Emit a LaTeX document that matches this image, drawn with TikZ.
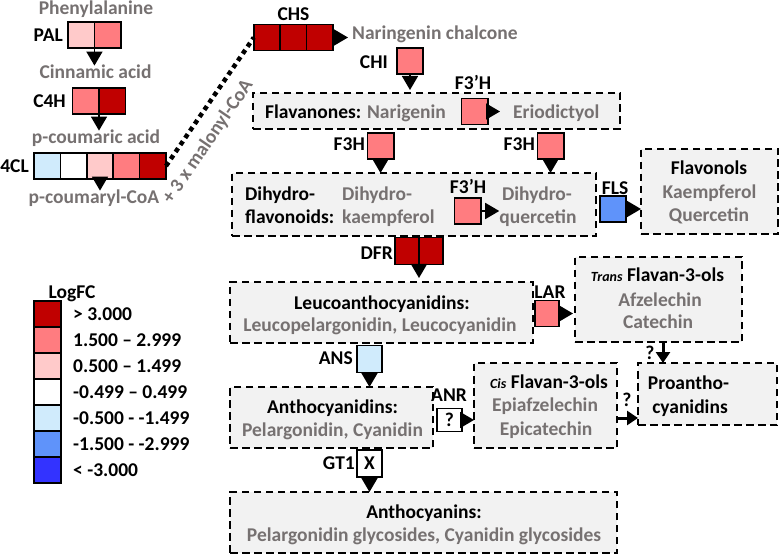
\documentclass[tikz,border=0pt]{standalone}
\usepackage{fontspec}
\setmainfont{Carlito}
\usetikzlibrary{arrows.meta,calc}
\definecolor{cR}{HTML}{C00000}
\definecolor{cS}{HTML}{FF7C80}
\definecolor{cP}{HTML}{FFCACA}
\definecolor{cBa}{HTML}{D0EBFC}
\definecolor{cBb}{HTML}{5F93FA}
\definecolor{cBc}{HTML}{3333FF}
\definecolor{gtx}{HTML}{767171}
\definecolor{bgbox}{HTML}{F2F2F2}
\begin{document}
\begin{tikzpicture}[x=1bp,y=-1bp,
  txt/.style={font=\bfseries\fontsize{19.5bp}{23bp}\selectfont, inner sep=0pt, text height=12.4bp, text depth=0pt},
  gtxt/.style={txt, text=gtx},
  cell/.style={draw, line width=1.6bp, minimum width=26.4bp, minimum height=26bp, inner sep=0pt, outer sep=0pt, font=\bfseries\fontsize{19.5bp}{23bp}\selectfont},
  cont/.style={draw, fill=bgbox, line width=1.7bp, dash pattern=on 7.5bp off 4.5bp, inner sep=0pt, outer sep=0pt},
  tri/.style={-{Triangle[width=16bp,length=14bp]}, line width=1.6bp},
  thk/.style={-{Triangle[width=14bp,length=11bp]}, line width=3bp},
  dotln/.style={line width=4.5bp, dash pattern=on 4.5bp off 4bp}
]
\useasboundingbox (0,0) rectangle (780,556);
% containers
\node[cont, minimum width=367bp, minimum height=36bp] (flavbox) at (436.5,111) {};
\node[cont, minimum width=364bp, minimum height=63bp] (dihbox) at (414,204.5) {};
\node[cont, minimum width=137bp, minimum height=85bp] (flolbox) at (709.5,191.5) {};
\node[cont, minimum width=303bp, minimum height=61bp] (leubox) at (381.5,312.5) {};
\node[cont, minimum width=167bp, minimum height=85bp] (transbox) at (658.5,299.5) {};
\node[cont, minimum width=143bp, minimum height=85bp] (cisbox) at (545.5,405.5) {};
\node[cont, minimum width=139bp, minimum height=62bp] (probox) at (707.5,394) {};
\node[cont, minimum width=203bp, minimum height=61bp] (anthbox) at (331.5,417.5) {};
\node[cont, minimum width=387bp, minimum height=61bp] (acybox) at (423.5,522.5) {};

% upstream texts
\node[gtxt] (phe) at (96,8) {Phenylalanine};
\node[txt, anchor=east] (lpal) at (63,35) {PAL};
\node[gtxt] (cinn) at (95.5,72) {Cinnamic acid};
\node[txt, anchor=east] (lc4h) at (66,101) {C4H};
\node[gtxt] (pcou) at (96,137) {p-coumaric acid};
\node[txt, anchor=east] (l4cl) at (29,166) {4CL};
\node[gtxt] (pcoa) at (94,197) {p-coumaryl-CoA};
\node[txt] (lchs) at (293.5,14) {CHS};
\node[gtxt, anchor=west] (narch) at (352,33) {Naringenin chalcone};
\node[txt, anchor=east] (lchi) at (388,62) {CHI};
\node[txt] (lf3pha) at (473,83) {F3’H};
\node[txt, anchor=west] (flavt) at (265,112) {Flavanones: \textcolor{gtx}{Narigenin}};
\node[gtxt, anchor=west] (erio) at (513,112) {Eriodictyol};
\node[txt, anchor=east] (lf3ha) at (365,144) {F3H};
\node[txt, anchor=east] (lf3hb) at (535,144) {F3H};
\node[txt, anchor=west] (dha) at (245,194) {Dihydro-};
\node[txt, anchor=west] (dhb) at (245,217) {flavonoids:};
\node[gtxt, anchor=west] (dka) at (342,194) {Dihydro-};
\node[gtxt, anchor=west] (dkb) at (342,217) {kaempferol};
\node[txt] (lf3phb) at (468,187) {F3’H};
\node[gtxt] (dqa) at (537,194) {Dihydro-};
\node[gtxt] (dqb) at (538,217) {quercetin};
\node[txt] (lfls) at (615,188) {FLS};
\node[txt] (flol) at (709,168) {Flavonols};
\node[gtxt] (kae) at (709.5,192) {Kaempferol};
\node[gtxt] (que) at (709,215) {Quercetin};
\node[txt, anchor=east] (ldfr) at (393,253) {DFR};
\node[txt] (leua) at (382,303) {Leucoanthocyanidins:};
\node[gtxt] (leub) at (380,325) {Leucopelargonidin, Leucocyanidin};
\node[txt] (llar) at (550,292) {LAR};
\node[txt] (trt) at (657.5,275) {{\fontsize{14bp}{16bp}\selectfont\itshape Trans} Flavan-3-ols};
\node[gtxt] (afz) at (660,300) {Afzelechin};
\node[gtxt] (cat) at (658,322) {Catechin};
\node[txt, anchor=east] (lans) at (353,358) {ANS};
\node[txt] (proa) at (688.5,383) {Proantho-};
\node[txt] (prob) at (690,407) {cyanidins};
\node[txt] (cist) at (549,382) {{\fontsize{14bp}{16bp}\selectfont\itshape Cis} Flavan-3-ols};
\node[gtxt] (epa) at (545,405) {Epiafzelechin};
\node[gtxt] (epc) at (546,429) {Epicatechin};
\node[txt] (lanr) at (449,395) {ANR};
\node[txt] (anta) at (332.5,407) {Anthocyanidins:};
\node[gtxt] (antb) at (332.5,430) {Pelargonidin, Cyanidin};
\node[txt] (qa) at (650,353) {?};
\node[txt] (qb) at (627,400) {?};
\node[txt, anchor=east] (lgt) at (355,463) {GT1};
\node[txt] (acya) at (424,512) {Anthocyanins:};
\node[gtxt] (acyb) at (424,535) {Pelargonidin glycosides, Cyanidin glycosides};

% enzyme cells
\node[cell, fill=cP] (pal1) at (81.25,35) {};
\node[cell, fill=cS] (pal2) at (107.75,35) {};
\node[cell, fill=cS] (c4h1) at (85.8,101) {};
\node[cell, fill=cR] (c4h2) at (112.2,101) {};
\node[cell, fill=cBa] (cl1) at (47.2,166) {};
\node[cell, fill=white] (cl2) at (73.6,166) {};
\node[cell, fill=cP] (cl3) at (100,166) {};
\node[cell, fill=cS] (cl4) at (126.4,166) {};
\node[cell, fill=cR] (cl5) at (152.8,166) {};
\node[cell, fill=cR] (chs1) at (267,37.5) {};
\node[cell, fill=cR] (chs2) at (293.4,37.5) {};
\node[cell, fill=cR] (chs3) at (319.8,37.5) {};
\node[cell, fill=cS] (chi) at (410,61) {};
\node[cell, fill=cS] (f3pha) at (474.5,111.5) {};
\node[cell, fill=cS] (f3ha) at (380.5,146) {};
\node[cell, fill=cS] (f3hb) at (550.5,146) {};
\node[cell, fill=cS] (f3phb) at (467.5,211) {};
\node[cell, fill=cBb] (fls) at (613,209) {};
\node[cell, fill=cR, minimum width=24bp, minimum height=27bp] (dfr1) at (407,251) {};
\node[cell, fill=cR, minimum width=24bp, minimum height=27bp] (dfr2) at (431,251) {};
\node[cell, fill=cS, minimum width=24bp] (lar) at (547,313.5) {};
\node[cell, fill=cBa, minimum width=25bp, minimum height=27bp] (ans) at (369.5,359) {};
\node[cell, fill=white, minimum width=25bp, minimum height=23bp] (anr) at (449.5,420) {?};
\node[cell, fill=white, minimum width=25bp, minimum height=27bp] (gt) at (369.5,463.5) {X};

% legend
\node[txt] (logfc) at (72,292) {LogFC};
\node[cell, fill=cR, minimum width=27bp] (lg1) at (47.5,314) {};
\node[cell, fill=cS, minimum width=27bp] (lg2) at (47.5,340) {};
\node[cell, fill=cP, minimum width=27bp] (lg3) at (47.5,366) {};
\node[cell, fill=white, minimum width=27bp] (lg4) at (47.5,392) {};
\node[cell, fill=cBa, minimum width=27bp] (lg5) at (47.5,418) {};
\node[cell, fill=cBb, minimum width=27bp] (lg6) at (47.5,444) {};
\node[cell, fill=cBc, minimum width=27bp] (lg7) at (47.5,470) {};
\node[txt, anchor=west] (lt1) at (73,314) {> 3.000};
\node[txt, anchor=west] (lt2) at (73,340) {1.500 – 2.999};
\node[txt, anchor=west] (lt3) at (73,366) {0.500 – 1.499};
\node[txt, anchor=west] (lt4) at (73,392) {-0.499 – 0.499};
\node[txt, anchor=west] (lt5) at (73,418) {-0.500 - -1.499};
\node[txt, anchor=west] (lt6) at (73,444) {-1.500 - -2.999};
\node[txt, anchor=west] (lt7) at (73,470) {< -3.000};

% connectors
\draw[dotln] (cl5.east) -- (chs1.west)
  node[pos=0.28, sloped, anchor=north, inner sep=0pt, outer ysep=14bp, font=\bfseries\fontsize{19.5bp}{23bp}\selectfont, text=gtx, text height=12.4bp, text depth=0pt] (malo) {+ 3 x malonyl-CoA};
\draw[tri] (pal1.south east) -- (pal1.south east |- cinn.north);
\draw[tri] (c4h1.south east) -- (c4h1.south east |- pcou.north);
\draw[tri] (cl3.south) -- (cl3.south |- pcoa.north);
\draw[tri, shorten >=4bp] (chs3.east) -- (chs3.east -| narch.west);
\draw[tri, shorten >=3bp] (chi.south) -- (chi.south |- flavbox.north);
\draw[tri, shorten >=13bp] (f3pha.east) -- (f3pha.east -| erio.west);
\draw[tri] (f3ha.south) -- (f3ha.south |- dihbox.north);
\draw[tri] (f3hb.south) -- (f3hb.south |- dihbox.north);
\draw[tri] (f3phb.east) -- (f3phb.east -| dqb.west);
\draw[tri] (fls.east) -- (fls.east -| flolbox.west);
\draw[tri, shorten >=4bp] (dfr1.south east) -- (dfr1.south east |- leubox.north);
\draw[tri, shorten >=2bp] (lar.east) -- (lar.east -| transbox.west);
\draw[tri] (ans.south) -- (ans.south |- anthbox.north);
\draw[tri] (anr.east) -- (anr.east -| cisbox.west);
\draw[tri] (gt.south) -- (gt.south |- acybox.north);
\draw[thk] ([xshift=4.5bp]transbox.south) -- ([xshift=4.5bp]transbox.south |- probox.north);
\coordinate (cq) at ($(cisbox.east)+(0,12.5)$);
\draw[thk] (cq) -- (cq -| probox.west);
\end{tikzpicture}
\end{document}
